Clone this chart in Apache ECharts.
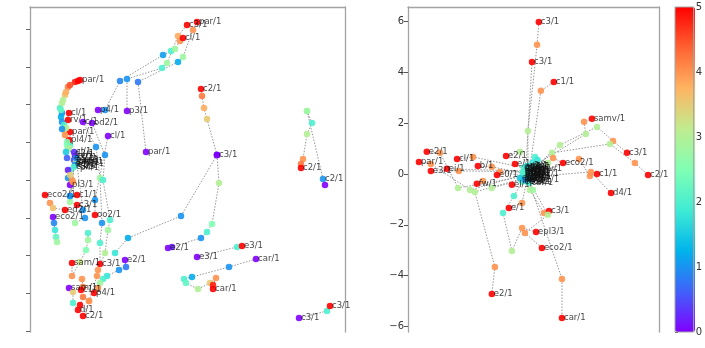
<!DOCTYPE html>
<html><head><meta charset="utf-8">
<script src="https://cdn.jsdelivr.net/npm/echarts@6/dist/echarts.min.js"></script>
<style>html,body{margin:0;padding:0;background:#fff}#c{width:705px;height:348px}</style>
</head><body><div id="c"></div>
<script>
// ---------- data ----------
const colorTicks = [0, 1, 2, 3, 4, 5];
const rightYTicks = [-6, -4, -2, 0, 2, 4, 6];
const leftYTicks = [0, 3.775, 7.55, 11.325, 15.1, 18.875, 22.65, 26.425, 30.2];

// each track: a = start label, b = end label, p = [x, y, colour value]
const leftUpperTracks = [
  {a:'par/1', b:'par/1', p:[[11.6,17.9,0],[10.8,24.9,0.8],[14.8,26.9,1.2],[15.3,27.4,2.8],[16.3,30.1,4],[16.7,30.9,5]]},
  {a:'p3/1', b:'c3/1', p:[[9.7,22.0,0],[9.7,25.2,1],[13.2,26.3,2],[13.7,26.8,2.8],[14.8,29.5,3.8],[15.7,30.6,5]]},
  {a:'p4/1', b:'cl/1', p:[[6.8,22.1,0],[7.5,22.1,1],[9.0,25.0,0.9],[13.3,27.6,1.1],[14.1,28.0,2],[14.5,28.2,2.8],[15.0,29.0,4],[15.3,29.3,5]]},
  {a:'c3/1', b:'c2/1', p:[[18.7,17.6,0],[17.7,21.2,3.5],[17.4,22.3,3.8],[17.2,23.5,4.2],[17.1,24.2,5]]}
];
const leftMidTracks = [
  {a:'e2/1', b:'', p:[[13.8,8.3,0],[14.2,8.4,0.2],[17.1,9.3,1],[17.7,9.9,2],[18.2,10.7,2.5],[18.9,14.8,3],[18.7,17.6,0]]},
  {a:'', b:'', p:[[18.7,17.6,0],[15.1,11.5,1],[9.8,9.3,1.2],[8.5,7.8,1.8]]},
  {a:'e3/1', b:'e3/1', p:[[16.7,7.4,0],[20.7,8.4,2],[21.2,8.5,5]]},
  {a:'car/1', b:'car/1', p:[[22.6,7.2,0],[19.9,6.4,1],[16.2,5.4,1.2],[15.4,5.2,2],[15.6,4.8,2.2],[16.8,4.2,3],[18.0,4.8,3.5],[18.6,5.3,4],[18.3,4.6,4.8],[18.3,4.2,5]]},
  {a:'c3/1', b:'c3/1', p:[[26.9,1.3,0],[29.7,2.0,2],[30.0,2.5,5]]},
  {a:'', b:'c2/1', p:[[27.7,22.0,2.8],[28.2,20.8,2],[27.7,19.7,3],[27.3,17.2,4],[27.1,16.7,4.2],[27.1,16.3,5]]},
  {a:'c2/1', b:'', p:[[29.3,15.2,1],[27.7,22.0,2.8]]}
];
const leftColumnTracks = [
  {a:'', b:'par/1', p:[[3.2,21.8,1],[3.0,22.3,2],[3.2,22.8,3],[3.5,23.6,3.6],[3.8,24.4,4.2],[4.5,24.9,4.8],[5.0,25.1,5]]},
  {a:'', b:'', p:[[3.1,21.4,1.2],[3.1,22.1,2.2],[3.3,23.1,3],[3.6,23.9,3.8],[4.0,24.6,4.5],[4.8,25.0,5]]},
  {a:'cl/1', b:'cl/1', p:[[4.4,17.9,0.3],[3.8,18.3,2],[3.4,20.1,3.5],[3.9,21.8,5]]},
  {a:'rv/1', b:'rv/1', p:[[4.5,17.5,0.2],[3.7,18.6,2.5],[3.2,20.9,1],[3.8,21.1,5]]},
  {a:'par/1', b:'par/1', p:[[4.4,17.1,0.4],[4.0,18.6,2],[4.0,19.9,5]]},
  {a:'pl4/1', b:'pl4/1', p:[[4.6,16.8,0.6],[3.9,18.3,3],[3.9,19.1,5]]},
  {a:'pl3/1', b:'', p:[[4.0,14.6,0],[3.8,15.3,1],[4.0,16.1,2],[4.6,16.9,3]]},
  {a:'c1/1', b:'c1/1', p:[[4.5,16.6,1],[4.2,15.1,4],[4.0,13.5,1],[4.7,13.6,5]]},
  {a:'c3/1', b:'c3/1', p:[[4.4,16.4,2],[4.0,12.9,2.8],[4.7,12.6,5]]},
  {a:'e2/1', b:'', p:[[4.6,17.3,1],[5.3,12.1,1],[5.5,11.3,1],[4.5,10.8,2.8]]}
];
const leftLowerTracks = [
  {a:'eco2/1', b:'ed2/1', p:[[1.5,13.6,5],[2.0,12.8,4],[2.3,12.3,3.6],[3.5,12.1,5]]},
  {a:'eco2/1', b:'', p:[[2.3,11.4,0],[2.4,10.8,0.9],[2.5,10.1,1.8],[2.6,9.4,2.2],[2.7,8.9,2.8]]},
  {a:'c/1', b:'c3/1', p:[[5.3,20.9,0],[6.6,18.4,1],[7.0,15.3,2.8],[7.2,10.8,1],[7.0,8.8,2],[7.0,6.7,5]]},
  {a:'od2/1', b:'c2/1', p:[[6.2,20.8,0],[7.5,17.6,1],[7.3,15.1,2],[8.0,11.1,2],[7.8,10.1,2.8],[7.5,7.8,3],[6.8,6.1,4],[6.7,5.5,4],[5.9,3.0,4],[5.3,1.5,5]]},
  {a:'cl/1', b:'oo2/1', p:[[7.8,19.5,0],[6.5,13.1,1],[6.5,11.6,5]]},
  {a:'e2/1', b:'p4/1', p:[[9.5,7.1,0],[9.6,6.4,0.8],[8.9,6.1,1],[7.7,5.5,1.8],[7.3,5.2,2],[7.0,4.8,2.8],[6.8,4.3,4],[6.4,3.8,5]]},
  {a:'', b:'sam/1', p:[[5.8,9.8,2],[5.8,9.1,2.8],[5.6,8.1,2.5],[5.0,6.9,3.2],[4.2,5.5,4],[4.2,6.8,5]]},
  {a:'sam/1', b:'d/1', p:[[3.9,4.3,0],[4.3,3.9,3.5],[4.3,2.8,2],[4.8,2.1,5]]},
  {a:'', b:'c1/1', p:[[5.2,5.2,4],[5.3,4.4,4.2],[5.1,4.1,5]]},
  {a:'', b:'', p:[[5.9,3.0,4],[5.3,3.4,4.2],[5.0,2.6,5]]}
];
const leftExtraPoints = [[3.4,20.6,2],[3.6,20.3,3],[3.5,19.6,4],[3.7,18.9,2.5],[3.6,17.9,1.5],[3.7,17.3,0.6],
  [3.8,16.1,0.2],[4.0,15.6,3.5],[4.3,14.9,4],[29.5,14.6,0],[3.2,20.2,1],[4.0,13.5,1]];
// overlapping start labels forming the dark cluster: [name, x, y]
const leftClusterLabels = [['d2/1',4.3,17.7],['sam/1',4.5,16.9],['c2/1',4.7,16.5],['e3/1',4.2,17.3],
  ['car/1',4.6,17.0],['eco2/1',4.3,16.7],['p4/1',4.8,16.3]];

const rightTracks = [
  {a:'c3/1', b:'c3/1', p:[[-0.08,0.16,2],[-0.08,1.69,3],[0.28,5.08,4],[0.35,5.98,5]]},
  {a:'c3/1', b:'c3/1', p:[[-0.16,0.24,2],[0.08,4.41,5]]},
  {a:'c1/1', b:'c1/1', p:[[0.0,0.28,2],[0.43,3.27,4],[0.94,3.62,5]]},
  {a:'samv/1', b:'samv/1', p:[[-0.04,0.2,2],[2.2,1.57,3],[2.13,2.05,4],[2.44,2.17,5]]},
  {a:'c3/1', b:'c3/1', p:[[0.0,0.12,2],[1.18,1.14,3],[2.64,1.85,3],[3.27,1.3,4],[3.82,0.83,5]]},
  {a:'c2/1', b:'c2/1', p:[[-0.02,0.04,2],[0.87,0.83,3],[3.15,1.18,3],[4.13,0.43,4],[4.65,-0.04,5]]},
  {a:'eco2/1', b:'eco2/1', p:[[-0.06,0.0,2],[0.71,0.43,3],[0.91,0.63,4],[1.3,0.43,5]]},
  {a:'c1/1', b:'c1/1', p:[[0.02,-0.04,2],[1.93,0.59,4],[2.36,-0.08,4],[2.64,0.0,5]]},
  {a:'d4/1', b:'d4/1', p:[[-0.02,-0.12,2],[2.4,0.08,4],[3.19,-0.75,5]]},
  {a:'c3/1', b:'c3/1', p:[[-0.1,-0.3,2],[0.0,-0.63,3],[0.55,-1.54,4],[0.75,-1.46,5]]},
  {a:'eco2/1', b:'eco2/1', p:[[-0.06,-0.24,2],[0.71,-1.61,3],[-0.2,-2.32,4],[0.47,-2.91,5]]},
  {a:'car/1', b:'car/1', p:[[-0.02,-0.35,2],[1.26,-4.13,4],[1.26,-5.67,5]]},
  {a:'e2/1', b:'e2/1', p:[[-0.2,-0.16,2],[-2.17,-0.71,3],[-1.38,-3.66,4],[-1.5,-4.72,5]]},
  {a:'e/1', b:'e/1', p:[[-0.12,-0.24,2],[-0.31,-1.14,4],[-0.83,-1.34,5]]},
  {a:'epl3/1', b:'epl3/1', p:[[-0.3,-0.3,2],[-0.63,-0.87,2],[-1.06,-1.54,2],[-0.71,-3.03,3],[-0.31,-2.13,4],[0.24,-2.28,5]]},
  {a:'e2/1', b:'e2/1', p:[[-0.12,-0.08,2],[-2.83,-0.55,3],[-3.54,0.83,4],[-4.06,0.87,5]]},
  {a:'par/1', b:'par/1', p:[[-0.16,0.0,2],[-2.36,-0.63,3],[-3.9,0.39,4],[-4.37,0.47,5]]},
  {a:'e3/1', b:'e3/1', p:[[-0.2,0.08,2],[-2.8,0.12,4],[-3.9,0.12,5]]},
  {a:'ei/1', b:'ei/1', p:[[-0.24,0.12,2],[-3.27,0.2,5]]},
  {a:'cl/1', b:'cl/1', p:[[-0.24,0.24,2],[-2.24,0.67,4],[-2.87,0.59,5]]},
  {a:'b/1', b:'b/1', p:[[-0.28,0.04,2],[-1.5,0.28,4],[-2.05,0.31,5]]},
  {a:'e2/1', b:'e2/1', p:[[-0.12,0.31,2],[-0.39,0.87,3],[-0.94,0.71,5]]},
  {a:'e/1', b:'e/1', p:[[-0.2,0.16,2],[-0.59,0.39,5]]},
  {a:'fw/1', b:'fw/1', p:[[-0.31,-0.24,2],[-1.5,-0.55,3],[-1.85,-0.28,4],[-2.09,-0.39,5]]},
  {a:'e0/1', b:'e0/1', p:[[-0.24,-0.08,2],[-1.18,0.08,4],[-1.3,-0.04,5]]},
  {a:'el/1', b:'el/1', p:[[-0.39,-0.16,1.5],[-0.71,-0.43,5]]}
];
const rightExtraPoints = [[0.2,0.67,2],[0.3,0.55,1.8],[0.1,0.45,1.8],[-0.1,0.3,1.6],[0.05,-0.2,1],
  [-0.2,-0.24,1],[0.35,0.3,2.2],[0.12,-0.63,2.8]];
const rightClusterLabels = [['d2/1',-0.3,0.2],['sam/1',-0.25,-0.1],['c2/1',-0.2,0.0],['pl4/1',-0.28,0.12],
  ['p3/1',-0.22,-0.2],['od2/1',-0.3,0.28],['rv/1',-0.15,-0.28],['pl3/1',-0.26,0.05],['ed2/1',-0.18,0.22],
  ['oo2/1',-0.3,-0.15],['c/1',-0.1,0.1],['d/1',-0.05,-0.15]];

const rainbow = ['#8000ff','#4062fa','#00b4eb','#40ecd4','#80ffb4','#c0ec8e','#ffb462','#ff6232','#ff0000'];

// ---------- build ----------
const series = [];
function addTracks(tracks, xi, yi, pts, labs) {
  tracks.forEach(t => {
    series.push({type:'line', xAxisIndex:xi, yAxisIndex:yi, data:t.p.map(q => [q[0], q[1]]),
      showSymbol:false, symbol:'none', silent:true, z:2,
      lineStyle:{type:[1.5, 1.5], color:'#8a8a8a', width:0.9}});
    t.p.forEach(q => pts.push(q));
    const last = t.p[t.p.length - 1];
    if (t.a) labs.push({name:t.a, value:[t.p[0][0], t.p[0][1]]});
    if (t.b) labs.push({name:t.b, value:[last[0], last[1]]});
  });
}
const leftPts = [], leftLabs = [], rightPts = [], rightLabs = [];
[leftUpperTracks, leftMidTracks, leftColumnTracks, leftLowerTracks].forEach(g => addTracks(g, 0, 0, leftPts, leftLabs));
leftExtraPoints.forEach(q => leftPts.push(q));
leftClusterLabels.forEach(l => leftLabs.push({name:l[0], value:[l[1], l[2]]}));
addTracks(rightTracks, 1, 2, rightPts, rightLabs);
rightExtraPoints.forEach(q => rightPts.push(q));
rightClusterLabels.forEach(l => rightLabs.push({name:l[0], value:[l[1], l[2]]}));

const ptIdx = [];
function addPoints(pts, xi, yi) {
  ptIdx.push(series.length);
  series.push({type:'scatter', xAxisIndex:xi, yAxisIndex:yi, data:pts, symbolSize:6.5, z:3,
    itemStyle:{opacity:0.9}, silent:true});
}
function addLabels(labs, xi, yi) {
  series.push({type:'scatter', xAxisIndex:xi, yAxisIndex:yi, data:labs, symbolSize:4, z:4, silent:true,
    itemStyle:{color:'rgba(0,0,0,0)'},
    label:{show:true, position:'right', distance:0, formatter:'{b}', fontSize:8.5,
      fontFamily:'DejaVu Sans', color:'#111'},
    labelLayout:{hideOverlap:false}});
}
addPoints(leftPts, 0, 0);
addPoints(rightPts, 1, 2);
addLabels(leftLabs, 0, 0);
addLabels(rightLabs, 1, 2);

const frame = {show:true, onZero:false, lineStyle:{color:'#a3a3a3', width:1.3}};
const none = {show:false};
const chart = echarts.init(document.getElementById('c'), null, {renderer:'canvas'});
chart.setOption({
  animation:false,
  backgroundColor:'#fff',
  grid:[
    {left:30, top:7, width:315, height:325},
    {left:408, top:7, width:251, height:325},
    {left:675, top:7, width:20, height:325, show:true, borderColor:'#a3a3a3', borderWidth:1, z:10, backgroundColor:'transparent'}
  ],
  xAxis:[
    {gridIndex:0, type:'value', min:0, max:31.5, position:'top', axisLine:frame, axisTick:none, axisLabel:none, splitLine:none},
    {gridIndex:1, type:'value', min:-4.8, max:5.08, position:'top', axisLine:frame, axisTick:none, axisLabel:none, splitLine:none},
    {gridIndex:2, type:'value', min:0, max:1, show:false}
  ],
  yAxis:[
    {gridIndex:0, type:'value', min:-0.1, max:32.4, position:'left', axisLine:frame,
      axisTick:{show:true, length:4, customValues:leftYTicks, lineStyle:{color:'#666'}},
      axisLabel:none, splitLine:none},
    {gridIndex:0, type:'value', min:-0.1, max:32.4, position:'right', axisLine:frame, axisTick:none, axisLabel:none, splitLine:none},
    {gridIndex:1, type:'value', min:-6.22, max:6.57, position:'left', axisLine:frame,
      axisTick:{show:true, length:4, customValues:rightYTicks, lineStyle:{color:'#555'}},
      axisLabel:{show:true, customValues:rightYTicks, fontSize:10, color:'#333', margin:4, fontFamily:'DejaVu Sans',
        formatter:v => String(v).replace('-', '\u2212')},
      splitLine:none},
    {gridIndex:1, type:'value', min:-6.22, max:6.57, position:'right', axisLine:frame, axisTick:none, axisLabel:none, splitLine:none},
    {gridIndex:2, type:'value', min:0, max:5, position:'right', axisLine:none,
      axisTick:{show:true, length:3, customValues:colorTicks, lineStyle:{color:'#555'}},
      axisLabel:{show:true, customValues:colorTicks, fontSize:10, color:'#333', margin:2, fontFamily:'DejaVu Sans'},
      splitLine:none}
  ],
  visualMap:{type:'continuous', min:0, max:5, dimension:2, seriesIndex:ptIdx, calculable:false,
    left:675, top:7, itemWidth:20, itemHeight:325, padding:0, text:['',''], showLabel:false,
    inRange:{color:rainbow}},
  series:series
});
</script></body></html>
